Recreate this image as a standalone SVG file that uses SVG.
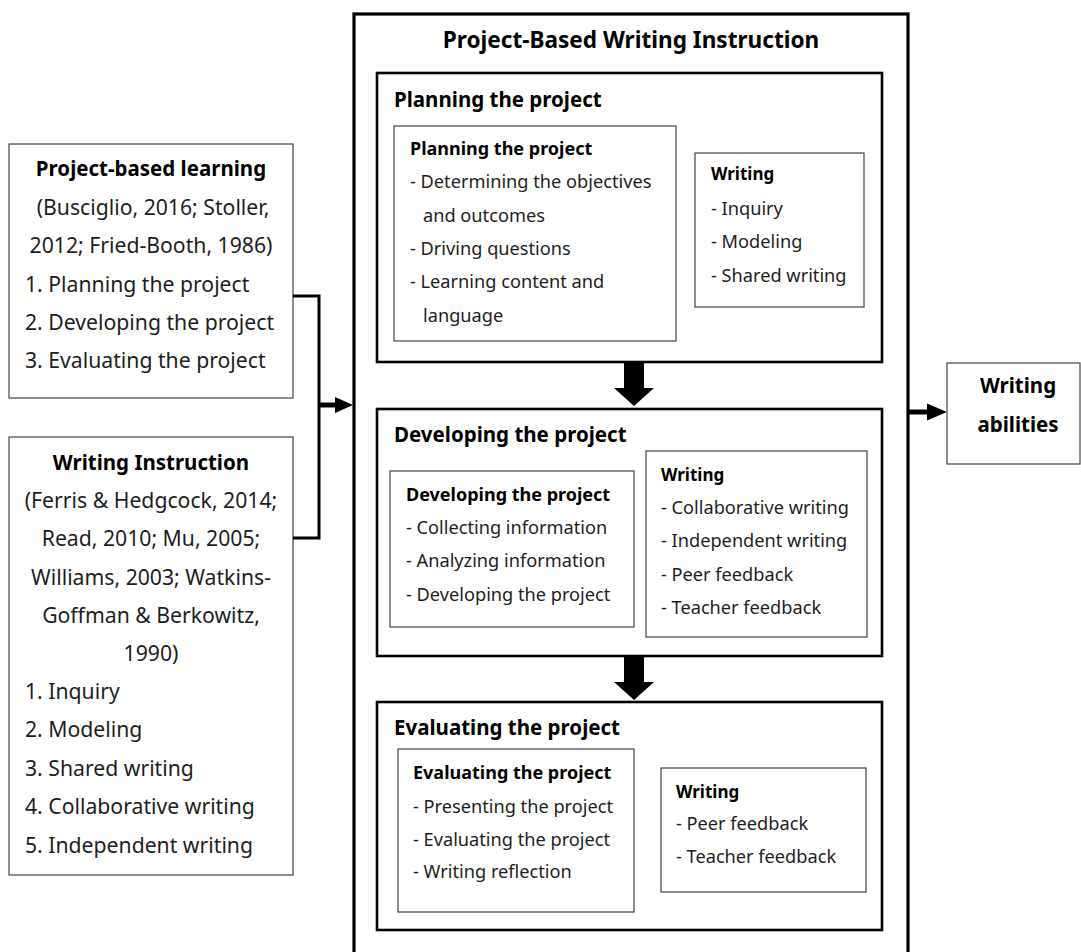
<svg xmlns="http://www.w3.org/2000/svg" width="1081" height="952" viewBox="0 0 1081 952">
<style>
text{font-family:"Noto Sans","Open Sans","DejaVu Sans",sans-serif;fill:#1e1e1e}
.b{font-size:18.2px}
.h{font-size:18px;font-weight:bold;fill:#000}
.hw{font-size:17px;font-weight:bold;fill:#000}
.ph{font-size:20.5px;font-weight:bold;fill:#000}
.t{font-size:22.6px;font-weight:bold;fill:#000}
.l{font-size:21.2px}
.lh{font-size:20.5px;font-weight:bold;fill:#000}
.c{text-anchor:middle}
.thin{fill:#fff;stroke:#444;stroke-width:1.2}
.phase{fill:#fff;stroke:#000;stroke-width:2.6}
.main{fill:#fff;stroke:#000;stroke-width:3.2}
.conn{fill:none;stroke:#000;stroke-width:3}
</style>
<rect width="1081" height="952" fill="#fff"/>

<g id="main">
<rect class="main" x="354" y="14" width="554" height="960"/>
<text class="t c" x="631" y="48">Project-Based Writing Instruction</text>
</g>

<g id="planning">
<rect class="phase" x="377" y="73" width="505" height="289"/>
<text class="ph" x="394" y="107">Planning the project</text>
<rect class="thin" x="394" y="126" width="282" height="215"/>
<text class="h" x="410" y="155">Planning the project</text>
<text class="b" x="410" y="188">- Determining the objectives</text>
<text class="b" x="423" y="222">and outcomes</text>
<text class="b" x="410" y="255">- Driving questions</text>
<text class="b" x="410" y="288">- Learning content and</text>
<text class="b" x="423" y="322">language</text>
<rect class="thin" x="695" y="153" width="169" height="154"/>
<text class="hw" x="711" y="180">Writing</text>
<text class="b" x="711" y="215">- Inquiry</text>
<text class="b" x="711" y="248">- Modeling</text>
<text class="b" x="711" y="282">- Shared writing</text>
</g>

<g id="developing">
<rect class="phase" x="377" y="409" width="505" height="247"/>
<text class="ph" x="394" y="442">Developing the project</text>
<rect class="thin" x="390" y="471" width="244" height="156"/>
<text class="h" x="406" y="501">Developing the project</text>
<text class="b" x="406" y="534">- Collecting information</text>
<text class="b" x="406" y="567">- Analyzing information</text>
<text class="b" x="406" y="601">- Developing the project</text>
<rect class="thin" x="646" y="451" width="221" height="186"/>
<text class="hw" x="661" y="481">Writing</text>
<text class="b" x="661" y="514">- Collaborative writing</text>
<text class="b" x="661" y="547">- Independent writing</text>
<text class="b" x="661" y="581">- Peer feedback</text>
<text class="b" x="661" y="614">- Teacher feedback</text>
</g>

<g id="evaluating">
<rect class="phase" x="377" y="702" width="505" height="228"/>
<text class="ph" x="394" y="735">Evaluating the project</text>
<rect class="thin" x="398" y="749" width="236" height="163"/>
<text class="h" x="413" y="779">Evaluating the project</text>
<text class="b" x="413" y="813">- Presenting the project</text>
<text class="b" x="413" y="846">- Evaluating the project</text>
<text class="b" x="413" y="878">- Writing reflection</text>
<rect class="thin" x="661" y="768" width="205" height="124"/>
<text class="hw" x="676" y="798">Writing</text>
<text class="b" x="676" y="830">- Peer feedback</text>
<text class="b" x="676" y="863">- Teacher feedback</text>
</g>

<g id="pbl">
<rect class="thin" x="9" y="144" width="284" height="254"/>
<text class="lh c" x="151" y="176">Project-based learning</text>
<text class="l c" x="153" y="215">(Busciglio, 2016; Stoller,</text>
<text class="l c" x="151" y="253">2012; Fried-Booth, 1986)</text>
<text class="l" x="25" y="292">1. Planning the project</text>
<text class="l" x="25" y="330">2. Developing the project</text>
<text class="l" x="25" y="368">3. Evaluating the project</text>
</g>

<g id="wi">
<rect class="thin" x="9" y="437" width="284" height="438"/>
<text class="lh c" x="151" y="470">Writing Instruction</text>
<text class="l c" x="151" y="508">(Ferris &amp; Hedgcock, 2014;</text>
<text class="l c" x="151" y="546">Read, 2010; Mu, 2005;</text>
<text class="l c" x="151" y="585">Williams, 2003; Watkins-</text>
<text class="l c" x="151" y="623">Goffman &amp; Berkowitz,</text>
<text class="l c" x="151" y="661">1990)</text>
<text class="l" x="25" y="699">1. Inquiry</text>
<text class="l" x="25" y="737">2. Modeling</text>
<text class="l" x="25" y="776">3. Shared writing</text>
<text class="l" x="25" y="814">4. Collaborative writing</text>
<text class="l" x="25" y="853">5. Independent writing</text>
</g>

<g id="abilities">
<rect class="thin" x="947" y="363" width="133" height="101"/>
<text class="lh c" x="1018" y="393">Writing</text>
<text class="lh c" x="1018" y="432">abilities</text>
</g>

<g id="connectors">
<polyline class="conn" points="293,296 319,296 319,538 293,538"/>
<line x1="319" y1="405" x2="337" y2="405" stroke="#000" stroke-width="5"/>
<polygon points="335,397 353,405 335,413" fill="#000"/>
<line x1="908" y1="412" x2="929" y2="412" stroke="#000" stroke-width="5"/>
<polygon points="927,403.5 947,412 927,420.5" fill="#000"/>
<polygon points="624,362 644,362 644,388 654,388 634,406 614,388 624,388" fill="#000"/>
<polygon points="624,656 644,656 644,682 654,682 634,700 614,682 624,682" fill="#000"/>
</g>
</svg>
